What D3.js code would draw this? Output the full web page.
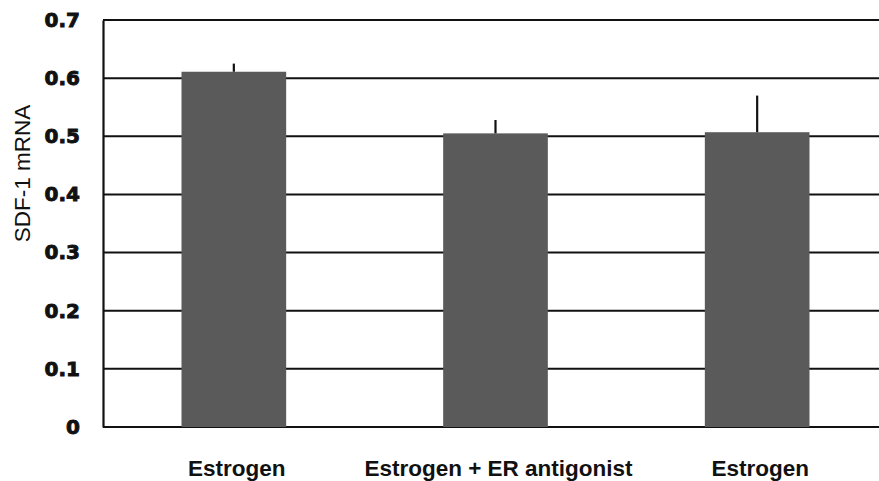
<!DOCTYPE html>
<html>
<head>
<meta charset="utf-8">
<script src="https://cdn.jsdelivr.net/npm/d3@7"></script>
<style>
  html, body { margin: 0; padding: 0; background: #fff; }
  svg { display: block; }
</style>
</head>
<body>
<svg id="chart" width="879" height="481"></svg>
<script>
const categories = ["Estrogen", "Estrogen + ER antigonist", "Estrogen"];
const values = [0.611, 0.505, 0.507];
const errors = [0.014, 0.023, 0.063];
const yTicks = [0, 0.1, 0.2, 0.3, 0.4, 0.5, 0.6, 0.7];
const yTitle = "SDF-1 mRNA";

const svg = d3.select("#chart");
const mLeft = 103, mRight = 888, mTop = 20, mBottom = 427;

const x = d3.scaleBand()
  .domain(d3.range(categories.length))
  .range([mLeft, mRight])
  .paddingInner(0.6)
  .paddingOuter(0.3);

const y = d3.scaleLinear().domain([0, 0.7]).range([mBottom, mTop]);

// gridlines
svg.append("g").selectAll("line").data(yTicks).join("line")
  .attr("x1", mLeft).attr("x2", 879)
  .attr("y1", d => y(d)).attr("y2", d => y(d))
  .attr("stroke", "#111").attr("stroke-width", 2);

// bars
svg.append("g").selectAll("rect").data(values).join("rect")
  .attr("x", (d, i) => x(i))
  .attr("width", x.bandwidth())
  .attr("y", d => y(d))
  .attr("height", d => y(0) - y(d))
  .attr("fill", "#5a5a5a");

// error bars (upper only)
svg.append("g").selectAll("line").data(values).join("line")
  .attr("x1", (d, i) => x(i) + x.bandwidth() / 2)
  .attr("x2", (d, i) => x(i) + x.bandwidth() / 2)
  .attr("y1", d => y(d))
  .attr("y2", (d, i) => y(d + errors[i]))
  .attr("stroke", "#111").attr("stroke-width", 2.2);

// y axis
const yAxis = d3.axisLeft(y).tickValues(yTicks)
  .tickFormat(d => d === 0 ? "0" : d3.format(".1f")(d))
  .tickSize(0).tickPadding(23);
const gy = svg.append("g").attr("transform", `translate(${mLeft},0)`).call(yAxis);
gy.select(".domain").attr("stroke", "#111").attr("stroke-width", 2.2);
gy.selectAll("text")
  .attr("font-family", "DejaVu Sans")
  .attr("font-weight", "bold")
  .attr("font-size", 20)
  .attr("fill", "#111")
  .attr("stroke", "#111")
  .attr("stroke-width", 0.9);

// x labels
const xAxis = d3.axisBottom(x).tickFormat(i => categories[i]).tickSize(0).tickPadding(0);
const gx = svg.append("g").attr("transform", `translate(3,${mBottom})`).call(xAxis);
gx.select(".domain").remove();
gx.selectAll("text")
  .attr("y", 48.5).attr("dy", 0)
  .attr("font-family", "Liberation Sans, Arial, sans-serif")
  .attr("font-weight", "bold")
  .attr("font-size", 22.5)
  .attr("fill", "#111");

// y title
svg.append("text")
  .attr("transform", "translate(30,173.5) rotate(-90)")
  .attr("text-anchor", "middle")
  .attr("font-family", "Liberation Sans, Arial, sans-serif")
  .attr("font-size", 22.5)
  .attr("fill", "#111")
  .text(yTitle);
</script>
</body>
</html>
